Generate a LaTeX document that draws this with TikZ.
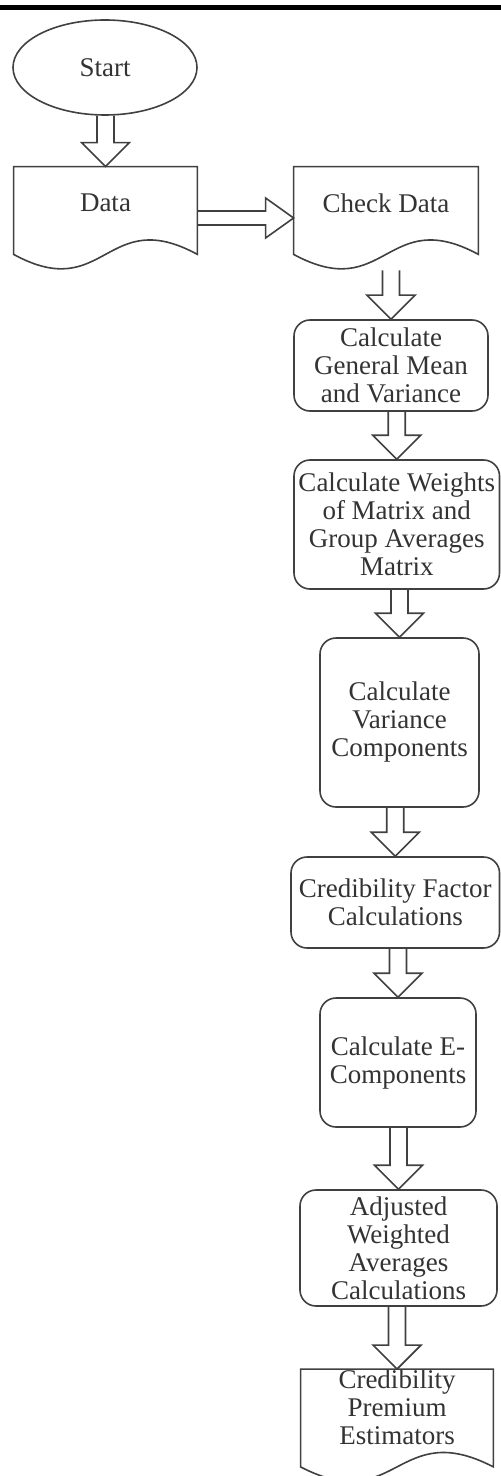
\documentclass[tikz,border=0pt]{standalone}
\usepackage{fontspec}
\setmainfont{Liberation Serif}
\usetikzlibrary{shapes.geometric,calc}

% hollow block arrow pointing down onto the top of #2
\newcommand{\fatdown}[2]{%
  \draw[blockarrow] ($(#1 -| #2.north)+(-8.5,0)$) -- ($(#2.north)+(-8.5,-24)$)
    -- ($(#2.north)+(-24,-24)$) -- (#2.north) -- ($(#2.north)+(24,-24)$)
    -- ($(#2.north)+(8.5,-24)$) -- ($(#1 -| #2.north)+(8.5,0)$);}
% document outline with wavy bottom, #2 = extra depth below the node
\newcommand{\docline}[2]{%
  \draw[ink] (#1.north west) -- (#1.north east) -- ($(#1.south east)+(0,#2)$)
    .. controls ($(#1.south)+(0,#2-50)$) and ($(#1.south)+(0,#2+50)$)
    .. ($(#1.south west)+(0,#2)$) -- cycle;}

\begin{document}
\begin{tikzpicture}[x=0.5pt,y=-0.5pt,
        every node/.style={font=\fontsize{13.5}{14}\selectfont,text=black!80,
          align=center,inner sep=0pt},
        ink/.style={draw=black!75,line width=0.8pt},
        blockarrow/.style={ink},
        box/.style={rectangle,rounded corners=8pt,ink},
        doc/.style={rectangle}]
  \useasboundingbox (0,0) rectangle (501,1476);
  \draw[line width=2.5pt] (0,8) -- (501,8);

  \node[ellipse,ink,minimum width=92pt,minimum height=47.5pt] (start) at (105,67.5) {Start};
  \node[doc,minimum width=91.5pt,minimum height=36pt] (data) at (105.5,203) {Data};
  \node[doc,minimum width=92pt,minimum height=36pt] (chk) at (386,203) {Check Data};
  \node[box,minimum width=97pt,minimum height=45.5pt] (gen) at (391,365.5)
    {Calculate\\General Mean\\and Variance};
  \node[box,minimum width=102.75pt,minimum height=64.5pt] (wts) at (396.75,524.5)
    {Calculate Weights\\of Matrix and\\Group Averages\\Matrix};
  \node[box,minimum width=79.5pt,minimum height=84.5pt] (var) at (399.5,722.5)
    {Calculate\\Variance\\Components};
  \node[box,minimum width=104.25pt,minimum height=45.5pt] (cred) at (395.25,902.5)
    {Credibility Factor\\Calculations};
  \node[box,minimum width=78pt,minimum height=64.5pt] (ecomp) at (398,1062.5)
    {Calculate E-\\Components};
  \node[box,minimum width=98.5pt,minimum height=58pt] (adj) at (398.5,1248)
    {Adjusted\\Weighted\\Averages\\Calculations};
  \node[doc,minimum width=96pt] (prem) at (397,1407)
    {Credibility\\Premium\\Estimators};

  \docline{data}{15}
  \docline{chk}{15}
  \docline{prem}{22}

  \coordinate (chkout) at ([yshift=-15.5pt]chk.south);

  \fatdown{start.south}{data}
  \draw[blockarrow] ($(data.east)+(0,8)$) -- ($(chk.west)+(-28,8)$)
    -- ($(chk.west)+(-28,-5)$) -- ($(chk.west)+(0,15)$) -- ($(chk.west)+(-28,35)$)
    -- ($(chk.west)+(-28,22)$) -- ($(data.east)+(0,22)$);
  \fatdown{chkout}{gen}
  \fatdown{gen.south}{wts}
  \fatdown{wts.south}{var}
  \fatdown{var.south}{cred}
  \fatdown{cred.south}{ecomp}
  \fatdown{ecomp.south}{adj}
  \fatdown{adj.south}{prem}
\end{tikzpicture}
\end{document}
